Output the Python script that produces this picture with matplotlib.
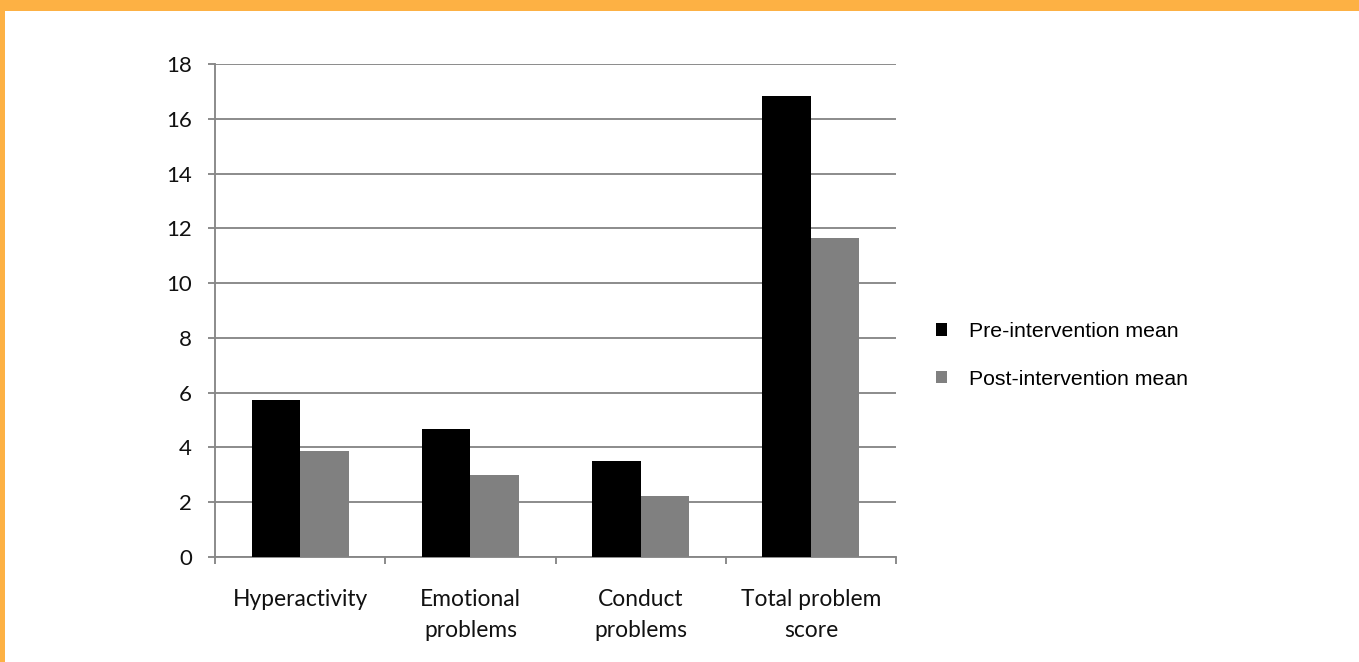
import matplotlib
matplotlib.use("Agg")
import matplotlib.pyplot as plt
from matplotlib.patches import Rectangle, Patch
import numpy as np

categories = ["Hyperactivity", "Emotional\nproblems", "Conduct\nproblems", "Total problem\nscore"]
pre_mean = [5.74, 4.69, 3.50, 16.82]
post_mean = [3.86, 2.98, 2.22, 11.66]
series_labels = ["Pre-intervention mean", "Post-intervention mean"]
yticks = [0, 2, 4, 6, 8, 10, 12, 14, 16, 18]

W, H = 1359, 662
fig = plt.figure(figsize=(W / 100, H / 100), dpi=100)
fig.patch.set_facecolor("white")

orange = "#FDB144"
# top banner and left border
fig.patches.append(Rectangle((0, 1 - 11 / H), 1, 11 / H, transform=fig.transFigure,
                             facecolor=orange, edgecolor="none", zorder=0))
fig.patches.append(Rectangle((0, 0), 5 / W, 1, transform=fig.transFigure,
                             facecolor=orange, edgecolor="none", zorder=0))

ax = fig.add_axes([215 / W, 1 - 557 / H, (896 - 215) / W, (557 - 64) / H])

grid_c = "#878787"
lw = 1.35
x = np.arange(len(categories))
bw = 0.285
ax.bar(x - bw / 2, pre_mean, bw, color="black", label=series_labels[0], zorder=3)
ax.bar(x + bw / 2, post_mean, bw, color="#808080", label=series_labels[1], zorder=3)

ax.set_xlim(-0.5, len(categories) - 0.5)
ax.set_ylim(0, 18)
ax.set_yticks(yticks)
ax.set_yticklabels([str(v) for v in yticks])
ax.yaxis.grid(True, color=grid_c, linewidth=lw, zorder=0)
ax.set_axisbelow(True)

for s in ["top", "right"]:
    ax.spines[s].set_visible(False)
for s in ["left", "bottom"]:
    ax.spines[s].set_color(grid_c)
    ax.spines[s].set_linewidth(lw)

# category labels at centers, tick marks at boundaries
ax.set_xticks(x)
ax.set_xticklabels(categories, fontfamily="Lato", fontsize=16.4, color="#111111",
                   linespacing=1.62)
ax.tick_params(axis="x", which="major", length=0, pad=23)
ax.set_xticks(np.arange(-0.5, len(categories), 1.0), minor=True)
ax.tick_params(axis="x", which="minor", length=5, width=lw, color=grid_c)
ax.tick_params(axis="y", length=5, width=lw, color=grid_c, pad=11.5,
               labelsize=16, labelcolor="#111111")
for lab in ax.get_yticklabels():
    lab.set_fontfamily("Lato")

handles = [Patch(facecolor="black", edgecolor="none"), Patch(facecolor="#808080", edgecolor="none")]
fig.legend(handles, series_labels, loc="center left",
           bbox_to_anchor=(936 / W, 1 - 355.5 / H), bbox_transform=fig.transFigure,
           frameon=False, borderpad=0, borderaxespad=0, handlelength=0.5, handleheight=0.5,
           handletextpad=1.05, labelspacing=1.36,
           prop={"family": "Liberation Sans", "size": 15.3})

fig.savefig("out.png", dpi=100, facecolor="white")
